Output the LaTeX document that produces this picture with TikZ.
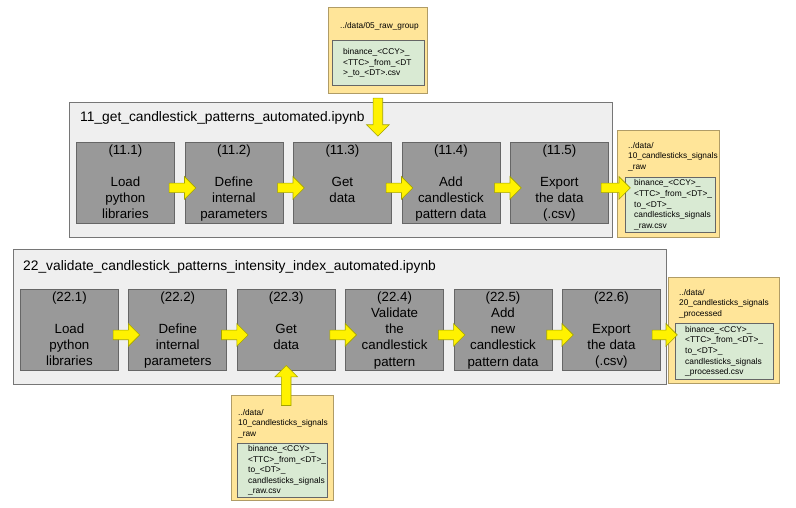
\documentclass[tikz,border=0pt]{standalone}
\usepackage{fontspec}
\setmainfont{Liberation Sans}
\usetikzlibrary{calc,shapes.arrows}

\definecolor{panelgray}{HTML}{EFEFEF}
\definecolor{panelline}{HTML}{767676}
\definecolor{boxgray}{HTML}{999999}
\definecolor{boxline}{HTML}{666666}
\definecolor{folderfill}{HTML}{FFE599}
\definecolor{folderline}{HTML}{B09C66}
\definecolor{filegreen}{HTML}{D9EAD3}
\definecolor{arrowline}{HTML}{A3A300}

% fat yellow arrow from one point to another
\newcommand{\flowarrow}[2]{%
  \path let \p1=(#1), \p2=(#2),
    \n1={veclen(\x2-\x1,\y2-\y1)}, \n2={atan2(\y2-\y1,\x2-\x1)} in
    node[flow, minimum height=\n1, rotate=\n2, anchor=tail] at (\p1) {};}
% top aligned text of a step box
\newcommand{\steptext}[1]{\parbox[c][81pt][t]{98pt}{\centering\vspace*{2pt}#1}}

\begin{document}
\begin{tikzpicture}[x=1pt,y=-1pt,
	notebook/.style={draw=panelline,fill=panelgray,line width=0.8pt,anchor=north west,inner sep=0},
	nbtitle/.style={anchor=west,inner sep=0,font=\fontsize{13.8}{16}\selectfont},
	stepbox/.style={draw=boxline,fill=boxgray,line width=0.8pt,anchor=north west,inner sep=0,font=\fontsize{13.3}{16.3}\selectfont},
	folder/.style={draw=folderline,fill=folderfill,line width=0.8pt,anchor=north west,inner sep=0},
	foldertext/.style={anchor=north west,inner sep=0,align=left,font=\fontsize{8.3}{10.5}\selectfont},
	datafile/.style={draw=boxline,fill=filegreen,line width=0.8pt,anchor=north west,inner sep=0},
	filetext/.style={anchor=west,inner sep=0,align=left,font=\fontsize{8.4}{10.6}\selectfont},
	flow/.style={single arrow,draw=arrowline,fill=yellow,line width=0.6pt,inner xsep=0,inner ysep=4.5pt,
		single arrow head extend=6.5pt,minimum width=22pt}]
		\useasboundingbox (0,0) rectangle (796,508);

		% notebook 11
		\node[notebook,minimum width=543,minimum height=135] (nb11) at (69,102) {};
		\node[nbtitle] (nb11title) at (80,118) {11\_get\_candlestick\_patterns\_automated.ipynb};
		\node[stepbox] (g1) at (76,142) {\steptext{(11.1)\\[16pt]Load\\python\\libraries}};
		\node[stepbox] (g2) at (184.5,142) {\steptext{(11.2)\\[16pt]Define\\internal\\parameters}};
		\node[stepbox] (g3) at (293,142) {\steptext{(11.3)\\[16pt]Get\\data}};
		\node[stepbox] (g4) at (401.5,142) {\steptext{(11.4)\\[16pt]Add\\candlestick\\pattern data}};
		\node[stepbox] (g5) at (510,142) {\steptext{(11.5)\\[16pt]Export\\the data\\(.csv)}};

		% notebook 22
		\node[notebook,minimum width=653,minimum height=135] (nb22) at (13,249) {};
		\node[nbtitle] (nb22title) at (23,267) {22\_validate\_candlestick\_patterns\_intensity\_index\_automated.ipynb};
		\node[stepbox] (v1) at (20,289) {\steptext{(22.1)\\[16pt]Load\\python\\libraries}};
		\node[stepbox] (v2) at (128.4,289) {\steptext{(22.2)\\[16pt]Define\\internal\\parameters}};
		\node[stepbox] (v3) at (236.8,289) {\steptext{(22.3)\\[16pt]Get\\data}};
		\node[stepbox] (v4) at (345.2,289) {\steptext{(22.4)\\Validate\\the\\candlestick\\pattern}};
		\node[stepbox] (v5) at (453.6,289) {\steptext{(22.5)\\Add\\new\\candlestick\\pattern data}};
		\node[stepbox] (v6) at (562,289) {\steptext{(22.6)\\[16pt]Export\\the data\\(.csv)}};

		% data folders
		\node[folder,minimum width=99,minimum height=86] (raw) at (328,7) {};
		\node[foldertext] (rawlabel) at ($(raw.north west)+(12,15)$) {../data/05\_raw\_group};
		\node[datafile,minimum width=92,minimum height=45] (rawfile) at (332,40) {};
		\node[filetext] (rawname) at ($(rawfile.west)+(11,0)$) {binance\_<CCY>\_\\<TTC>\_from\_<DT\\>\_to\_<DT>.csv};

		\node[folder,minimum width=102,minimum height=107] (sig) at (617,130) {};
		\node[foldertext] (siglabel) at ($(sig.north west)+(11,12)$) {../data/\\10\_candlesticks\_signals\\\_raw};
		\node[datafile,minimum width=90,minimum height=55] (sigfile) at (625,177) {};
		\node[filetext] (signame) at ($(sigfile.west)+(9,0)$) {binance\_<CCY>\_\\<TTC>\_from\_<DT>\_\\to\_<DT>\_\\candlesticks\_signals\\\_raw.csv};

		\node[folder,minimum width=111,minimum height=106] (proc) at (668,277) {};
		\node[foldertext] (proclabel) at ($(proc.north west)+(11,12)$) {../data/\\20\_candlesticks\_signals\\\_processed};
		\node[datafile,minimum width=98,minimum height=56] (procfile) at (675,323) {};
		\node[filetext] (procname) at ($(procfile.west)+(10,0)$) {binance\_<CCY>\_\\<TTC>\_from\_<DT>\_\\to\_<DT>\_\\candlesticks\_signals\\\_processed.csv};

		\node[folder,minimum width=102,minimum height=105] (sigraw) at (231,395) {};
		\node[foldertext] (sigrawlabel) at ($(sigraw.north west)+(7,14)$) {../data/\\10\_candlesticks\_signals\\\_raw};
		\node[datafile,minimum width=90,minimum height=54] (sigrawfile) at (237,443) {};
		\node[filetext] (sigrawname) at ($(sigrawfile.west)+(11,0)$) {binance\_<CCY>\_\\<TTC>\_from\_<DT>\_\\to\_<DT>\_\\candlesticks\_signals\\\_raw.csv};

		% arrows
		\foreach \a/\b in {g1/g2,g2/g3,g3/g4,g4/g5,v1/v2,v2/v3,v3/v4,v4/v5,v5/v6}
			\flowarrow{$(\a.east)+(-6,5)$}{$(\b.west)+(11,5)$};
		\flowarrow{$(g5.east)+(-8,5)$}{$(g5.east -| sigfile.west)+(5,5)$};
		\flowarrow{$(v6.east)+(-9,5)$}{$(v6.east -| procfile.west)+(2,5)$};
		\coordinate (nb11in) at ($(raw.south)+(0,42)$);
		\flowarrow{$(raw.south)+(0,4)$}{nb11in};
		\coordinate (sigrawout) at ($(v3.south)+(0,35)$);
		\flowarrow{sigrawout}{$(v3.south)+(0,-5)$};

	\end{tikzpicture}
\end{document}
